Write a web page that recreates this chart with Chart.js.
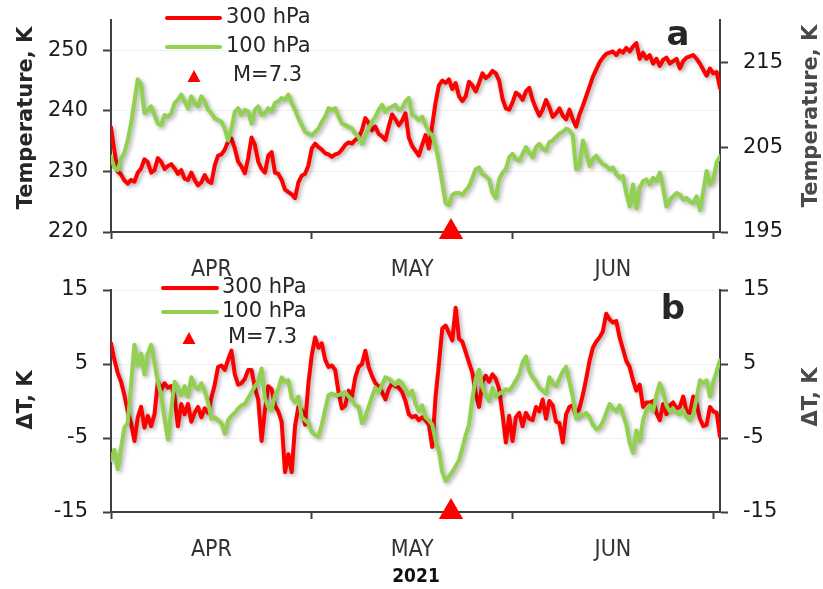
<!DOCTYPE html>
<html>
<head>
<meta charset="utf-8">
<script src="https://cdn.jsdelivr.net/npm/chart.js@4.4.1/dist/chart.umd.min.js"></script>
<style>
  html, body { margin: 0; padding: 0; background: #fff; }
  #wrap { position: relative; width: 823px; height: 589px; overflow: hidden; }
  canvas { position: absolute; left: 0; }
  #topChart { top: 0; }
  #botChart { top: 270px; }
</style>
</head>
<body>
<div id="wrap">
  <canvas id="topChart" width="823" height="290"></canvas>
  <canvas id="botChart" width="823" height="319"></canvas>
</div>
<script>
// Sampling times: days since 1 April 2021, every 12 hours
const days = [0,0.5,1,1.5,2,2.5,3,3.5,4,4.5,5,5.5,6,6.5,7,7.5,8,8.5,9,9.5,10,10.5,11,11.5,12,12.5,13,13.5,14,14.5,15,15.5,16,16.5,17,17.5,18,18.5,19,19.5,20,20.5,21,21.5,22,22.5,23,23.5,24,24.5,25,25.5,26,26.5,27,27.5,28,28.5,29,29.5,30,30.5,31,31.5,32,32.5,33,33.5,34,34.5,35,35.5,36,36.5,37,37.5,38,38.5,39,39.5,40,40.5,41,41.5,42,42.5,43,43.5,44,44.5,45,45.5,46,46.5,47,47.5,48,48.5,49,49.5,50,50.5,51,51.5,52,52.5,53,53.5,54,54.5,55,55.5,56,56.5,57,57.5,58,58.5,59,59.5,60,60.5,61,61.5,62,62.5,63,63.5,64,64.5,65,65.5,66,66.5,67,67.5,68,68.5,69,69.5,70,70.5,71,71.5,72,72.5,73,73.5,74,74.5,75,75.5,76,76.5,77,77.5,78,78.5,79,79.5,80,80.5,81,81.5,82,82.5,83,83.5,84,84.5,85,85.5,86,86.5,87,87.5,88,88.5,89,89.5,90,90.5,91];

// Temperature at 300 hPa, K (left axis of panel a)
const temp300 = [
  237.3,233.5,230.0,229.5,228.5,228.0,228.6,228.3,229.8,230.5,
  232.0,231.5,229.8,230.2,232.2,231.6,230.4,230.9,231.2,230.5,
  229.6,230.2,228.8,228.6,229.8,228.6,227.7,228.2,229.4,228.4,
  228.1,231.0,232.6,232.8,233.6,235.0,235.4,233.8,231.6,230.8,
  229.7,232.2,235.6,234.4,231.6,230.4,229.8,232.6,233.2,229.8,
  229.6,228.6,227.0,226.6,226.2,225.6,228.2,229.3,229.6,231.0,
  233.8,234.6,234.0,233.6,233.0,232.8,232.4,232.8,233.0,233.6,
  234.4,234.8,234.6,235.2,235.6,236.8,238.8,238.0,236.8,237.4,
  236.2,235.8,235.2,237.4,239.4,238.6,237.6,238.4,239.6,235.6,
  234.2,233.4,232.6,234.4,236.0,233.8,237.6,241.4,244.2,245.0,
  244.6,245.2,243.6,244.6,242.4,241.6,242.4,244.8,244.2,243.2,
  244.6,246.2,245.4,245.8,246.6,246.2,245.0,242.0,240.4,240.2,
  241.4,243.0,242.6,241.8,243.2,243.8,241.8,240.4,239.2,240.2,
  241.8,240.6,239.0,239.6,240.4,239.2,238.6,240.2,238.6,237.4,
  239.4,240.8,242.4,244.0,245.6,246.8,248.0,248.8,249.4,249.6,
  249.8,249.2,250.0,249.6,250.4,249.8,250.6,251.2,248.6,249.6,
  248.6,249.2,247.8,248.6,247.4,248.4,248.8,247.8,248.2,248.6,
  247.0,248.2,248.8,249.0,249.2,248.6,247.8,246.8,245.8,247.0,
  246.2,246.4,243.8
];

// Temperature at 100 hPa, K (right axis of panel a)
const temp100 = [
  203.9,202.6,202.3,203.6,204.4,205.8,207.8,210.4,213.0,212.4,
  209.0,209.4,209.8,208.8,207.8,207.6,208.8,208.6,209.0,210.2,
  210.6,211.2,210.4,209.6,211.0,210.2,209.8,211.0,210.4,209.4,
  209.0,208.4,208.2,208.0,207.2,205.8,207.2,209.2,209.6,208.8,
  209.4,209.2,207.8,209.4,209.8,208.8,209.0,209.6,209.2,210.2,
  210.4,210.8,210.6,211.2,210.2,209.4,208.4,207.6,206.8,206.6,
  206.4,206.8,207.2,208.0,208.6,209.6,209.4,209.6,208.6,207.8,
  207.6,207.4,207.2,206.6,206.2,205.4,206.4,207.2,208.0,208.6,
  209.4,210.0,209.2,209.6,209.8,210.0,209.4,209.6,210.4,210.8,
  208.8,208.6,208.2,208.6,207.6,206.8,206.4,205.2,203.2,200.8,
  198.4,198.2,199.4,199.6,199.6,199.4,199.9,200.4,201.4,202.4,
  202.6,201.8,201.6,201.2,199.6,199.0,201.2,202.0,202.4,203.8,
  204.2,203.6,203.4,204.2,205.0,204.4,203.8,205.0,205.4,204.8,
  204.6,205.6,205.8,206.2,206.6,206.8,207.2,207.0,206.4,202.4,
  202.8,205.8,204.4,202.8,203.6,204.0,203.4,203.0,202.8,202.4,
  202.6,201.8,201.4,201.6,199.6,198.0,200.6,197.8,200.2,201.0,
  201.2,200.6,201.4,201.0,202.0,200.2,198.0,198.8,199.2,199.6,
  199.4,198.8,199.0,198.6,198.4,199.2,197.6,199.8,202.2,200.6,
  201.2,203.2,203.9
];

// Temperature anomaly at 300 hPa, K (panel b)
const dT300 = [
  7.8,5.6,3.8,2.6,0.8,-1.4,-3.0,-5.4,-2.2,-0.8,
  -3.6,-2.0,-3.4,-1.8,2.6,1.6,2.4,1.8,2.0,0.6,
  -3.4,-0.4,-1.8,-0.4,-2.8,-1.6,-0.8,-2.2,-1.0,-1.6,
  0.4,2.2,4.6,4.8,4.2,5.6,6.8,3.6,2.2,2.4,
  3.0,4.2,4.2,1.8,0.2,-5.4,-1.2,2.0,1.6,-0.6,
  -1.4,-2.8,-9.6,-7.2,-9.6,-3.4,-0.8,-1.2,-3.2,2.4,
  6.2,8.6,7.2,7.8,5.6,4.6,4.8,4.2,1.2,-1.0,
  -0.6,1.4,0.6,3.2,4.6,5.0,6.8,4.6,3.4,2.4,
  2.0,1.2,0.2,1.6,2.4,2.0,1.8,1.2,0.0,-1.8,
  -2.2,-2.0,-2.6,-2.2,-2.6,-3.2,-6.2,0.6,5.0,9.8,
  10.2,9.2,8.2,12.6,8.4,8.0,6.6,5.2,3.8,1.0,
  -0.8,2.6,3.4,2.6,3.6,3.0,1.6,-1.8,-5.6,-2.0,
  -5.4,-2.2,-1.6,-3.4,-1.6,-2.4,-2.6,-0.8,-1.4,0.2,
  -2.4,0.0,-0.6,-2.8,-3.0,-5.6,-1.8,-0.8,-0.6,-2.0,
  -1.0,0.8,3.0,5.4,7.2,8.0,8.6,9.4,11.8,11.0,
  10.6,10.8,8.6,7.0,5.4,4.6,2.8,1.4,2.2,-0.8,
  -0.2,-0.2,0.0,-1.6,-2.6,-0.4,-1.8,-0.6,-0.2,-1.0,
  -0.8,0.6,-1.4,-1.6,0.6,-0.4,-2.4,-3.4,-3.2,-0.8,
  -1.4,-1.6,-4.8
];

// Temperature anomaly at 100 hPa, K (panel b)
const dT100 = [
  -8.0,-6.6,-9.2,-6.4,-3.6,-3.0,2.2,7.6,4.8,6.4,
  3.6,6.4,7.6,5.2,2.6,0.8,-2.4,-5.2,-1.2,2.6,
  1.8,0.8,2.0,0.6,3.2,2.0,1.6,2.4,1.4,-0.2,
  -2.4,-2.2,-2.6,-3.0,-4.4,-2.6,-2.0,-1.6,-1.0,-0.6,
  -0.4,0.4,1.2,2.0,2.6,4.4,0.4,-0.8,-1.2,0.8,
  1.6,3.2,2.6,2.8,0.4,-0.2,0.6,-2.2,-2.6,-3.0,
  -4.2,-4.6,-4.8,-3.2,-1.2,0.8,1.0,0.8,0.8,1.0,
  1.2,0.6,0.2,-0.6,-0.8,-3.0,-2.2,-0.8,0.6,1.8,
  1.2,2.2,3.2,3.0,2.6,2.2,2.8,2.4,1.6,0.8,
  1.4,-0.4,-1.4,-0.6,-2.2,-2.6,-3.2,-5.4,-6.8,-9.6,
  -10.8,-10.2,-9.6,-8.8,-8.0,-6.4,-4.6,-3.2,0.4,3.0,
  4.2,1.8,0.8,0.0,1.8,0.6,1.0,1.2,1.6,1.4,
  2.0,2.8,3.6,5.2,6.0,4.0,3.2,2.6,1.8,1.4,
  1.0,3.2,2.4,2.0,3.0,4.0,4.6,2.6,0.6,-2.4,
  -1.8,-2.0,-1.6,-2.2,-3.2,-3.8,-3.6,-2.8,-1.6,-0.4,
  -1.0,-1.4,-0.6,-1.8,-3.2,-5.6,-7.0,-4.0,-5.4,-2.6,
  -1.2,-0.6,-1.4,0.8,2.4,1.2,-0.6,-1.4,-1.0,-1.6,
  -1.8,-1.2,-2.2,-2.6,-1.8,0.4,2.8,2.4,2.8,0.6,
  2.6,4.0,5.5
];

// Earthquake time (days since 1 April) and magnitude label
const quakeDay = [50.8];
const quakeLabel = 'M=7.3';

// Axis ticks and labels
const monthTicks = [0, 30, 60, 90];
const monthLabelDays = [15, 45, 75];
const monthNames = ['APR', 'MAY', 'JUN'];
const tempLeftTicks = [220, 230, 240, 250];
const tempRightTicks = [195, 205, 215];
const anomalyTicks = [-15, -5, 5, 15];
const seriesNames = ['300 hPa', '100 hPa'];
const yearLabel = '2021';

const RED = '#ff0000';
const GREEN = '#92d050';
const AXIS = '#404040';
const FONT = "'DejaVu Sans', Verdana, sans-serif";
const COND = "'DejaVu Sans Condensed', 'Liberation Sans Narrow', 'DejaVu Sans', sans-serif";

const toXY = vals => vals.map((v, i) => ({ x: days[i], y: v }));

function xAxis(height) {
  return {
    type: 'linear', position: 'bottom', min: 0, max: 91,
    afterBuildTicks: ax => {
      ax.ticks = monthTicks.concat(monthLabelDays).sort((a, b) => a - b).map(v => ({ value: v }));
    },
    afterFit: ax => {
      ax.height = height;
      ax.paddingLeft = 0; ax.paddingRight = 0;
    },
    border: { display: true, color: AXIS, width: 2 },
    grid: {
      drawOnChartArea: false, tickLength: 7, tickWidth: 2,
      tickColor: ctx => (ctx.tick && monthTicks.includes(ctx.tick.value)) ? AXIS : 'rgba(0,0,0,0)'
    },
    ticks: {
      autoSkip: false, maxRotation: 0, minRotation: 0, padding: 17,
      color: '#333', font: { family: COND, size: 23 },
      callback: v => { const i = monthLabelDays.indexOf(v); return i >= 0 ? monthNames[i] : ''; }
    }
  };
}

function yAxis(pos, min, max, tickVals, width, gridOn) {
  return {
    type: 'linear', position: pos, min: min, max: max,
    afterBuildTicks: ax => { ax.ticks = tickVals.map(v => ({ value: v })); },
    afterFit: ax => {
      ax.width = width;
      ax.paddingTop = 0; ax.paddingBottom = 0;
    },
    border: { display: true, color: AXIS, width: 2 },
    grid: {
      drawOnChartArea: gridOn, color: '#f0f0f0', lineWidth: 1,
      tickLength: 8, tickWidth: 2, tickColor: AXIS
    },
    ticks: { padding: 15, color: '#1a1a1a', font: { family: FONT, size: 21 } }
  };
}

// Soft drop shadow under the data lines
const lineShadow = {
  id: 'lineShadow',
  beforeDatasetDraw(chart, args) {
    if (!chart.data.datasets[args.index].shadow) return;
    const c = chart.ctx;
    c.save();
    c.shadowColor = 'rgba(0,0,0,0.32)';
    c.shadowBlur = 4;
    c.shadowOffsetX = 2;
    c.shadowOffsetY = 2;
  },
  afterDatasetDraw(chart, args) {
    if (chart.data.datasets[args.index].shadow) chart.ctx.restore();
  }
};

// Legend, panel letters and axis titles
const overlay = {
  id: 'overlay',
  afterDraw(chart, args, opts) {
    const c = chart.ctx;
    (opts.items || []).forEach(it => {
      c.save();
      if (it.kind === 'line') {
        c.strokeStyle = it.color; c.lineWidth = 4; c.lineCap = 'round';
        c.beginPath(); c.moveTo(it.x1, it.y); c.lineTo(it.x2, it.y); c.stroke();
      } else if (it.kind === 'tri') {
        c.fillStyle = it.color;
        c.beginPath();
        c.moveTo(it.x, it.y - it.h / 2);
        c.lineTo(it.x + it.w / 2, it.y + it.h / 2);
        c.lineTo(it.x - it.w / 2, it.y + it.h / 2);
        c.closePath(); c.fill();
      } else {
        c.fillStyle = it.color || '#262626';
        c.font = it.font;
        c.textAlign = it.align || 'left';
        c.textBaseline = it.baseline || 'middle';
        c.translate(it.x, it.y);
        if (it.rotate) c.rotate(it.rotate);
        c.fillText(it.text, 0, 0);
      }
      c.restore();
    });
  }
};

function legendItems(x1, x2, xt, y1, y2, xTri, xTxt, y3) {
  return [
    { kind: 'line', x1: x1, x2: x2, y: y1, color: RED },
    { kind: 'text', text: seriesNames[0], x: xt, y: y1, font: `21px ${FONT}`, color: '#262626' },
    { kind: 'line', x1: x1, x2: x2, y: y2, color: GREEN },
    { kind: 'text', text: seriesNames[1], x: xt, y: y2, font: `21px ${FONT}`, color: '#262626' },
    { kind: 'tri', x: xTri, y: y3, w: 13, h: 12, color: RED },
    { kind: 'text', text: quakeLabel, x: xTxt, y: y3, font: `21px ${FONT}`, color: '#262626' }
  ];
}

const baseOptions = {
  responsive: false, animation: false, devicePixelRatio: 1, events: [],
  plugins: { legend: { display: false }, tooltip: { enabled: false } }
};

// Panel a: absolute temperatures
new Chart(document.getElementById('topChart'), {
  type: 'line',
  data: {
    datasets: [
      { label: quakeLabel, data: quakeDay.map(d => ({ x: d, y: 220 })), yAxisID: 'y', showLine: false,
        pointStyle: 'triangle', pointRadius: 14, pointBackgroundColor: RED, pointBorderWidth: 0,
        clip: false, order: 0 },
      { label: seriesNames[1], data: toXY(temp100), yAxisID: 'y2', borderColor: GREEN, borderWidth: 4,
        pointRadius: 0, tension: 0, borderJoinStyle: 'round', borderCapStyle: 'round', shadow: true, order: 1 },
      { label: seriesNames[0], data: toXY(temp300), yAxisID: 'y', borderColor: RED, borderWidth: 4,
        pointRadius: 0, tension: 0, borderJoinStyle: 'round', borderCapStyle: 'round', shadow: true, order: 2 }
    ]
  },
  options: Object.assign({}, baseOptions, {
    layout: { padding: { top: 20, left: 0, right: 0, bottom: 0 } },
    scales: {
      x: xAxis(58),
      y: yAxis('left', 220, 255, tempLeftTicks, 111, true),
      y2: yAxis('right', 195, 220, tempRightTicks, 103, false)
    },
    plugins: Object.assign({}, baseOptions.plugins, {
      overlay: {
        items: legendItems(167, 220, 226, 18, 47, 194, 233, 76).concat([
          { kind: 'text', text: 'a', x: 678, y: 45, baseline: 'alphabetic', align: 'center',
            font: `bold 34px ${FONT}`, color: '#262626' },
          { kind: 'text', text: 'Temperature, K', x: 27, y: 118, align: 'center', rotate: -Math.PI / 2,
            font: `bold 21px ${FONT}`, color: '#262626' },
          { kind: 'text', text: 'Temperature, K', x: 812, y: 116, align: 'center', rotate: -Math.PI / 2,
            font: `bold 21px ${FONT}`, color: '#4a4a4a' }
        ])
      }
    })
  }),
  plugins: [lineShadow, overlay]
});

// Panel b: temperature anomalies
new Chart(document.getElementById('botChart'), {
  type: 'line',
  data: {
    datasets: [
      { label: quakeLabel, data: quakeDay.map(d => ({ x: d, y: -15 })), yAxisID: 'y', showLine: false,
        pointStyle: 'triangle', pointRadius: 14, pointBackgroundColor: RED, pointBorderWidth: 0,
        clip: false, order: 0 },
      { label: seriesNames[1], data: toXY(dT100), yAxisID: 'y', borderColor: GREEN, borderWidth: 4,
        pointRadius: 0, tension: 0, borderJoinStyle: 'round', borderCapStyle: 'round', shadow: true, order: 1 },
      { label: seriesNames[0], data: toXY(dT300), yAxisID: 'y', borderColor: RED, borderWidth: 4,
        pointRadius: 0, tension: 0, borderJoinStyle: 'round', borderCapStyle: 'round', shadow: true, order: 2 }
    ]
  },
  options: Object.assign({}, baseOptions, {
    layout: { padding: { top: 20, left: 0, right: 0, bottom: 0 } },
    scales: {
      x: xAxis(77),
      y: yAxis('left', -15, 15, anomalyTicks, 111, true),
      y2: yAxis('right', -15, 15, anomalyTicks, 103, false)
    },
    plugins: Object.assign({}, baseOptions.plugins, {
      overlay: {
        items: legendItems(163, 217, 222, 18, 42, 189, 228, 68).concat([
          { kind: 'text', text: 'b', x: 673, y: 49, baseline: 'alphabetic', align: 'center',
            font: `bold 34px ${FONT}`, color: '#262626' },
          { kind: 'text', text: 'ΔT, K', x: 27, y: 130, align: 'center', rotate: -Math.PI / 2,
            font: `bold 21px ${FONT}`, color: '#262626' },
          { kind: 'text', text: 'ΔT, K', x: 812, y: 127, align: 'center', rotate: -Math.PI / 2,
            font: `bold 21px ${FONT}`, color: '#4a4a4a' },
          { kind: 'text', text: yearLabel, x: 416, y: 307, align: 'center',
            font: `bold 19px ${COND}`, color: '#111' }
        ])
      }
    })
  }),
  plugins: [lineShadow, overlay]
});
</script>
</body>
</html>
